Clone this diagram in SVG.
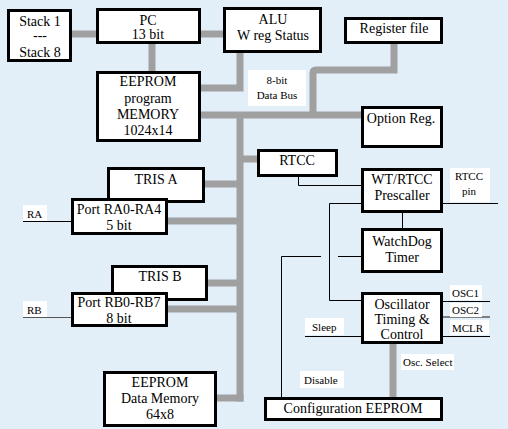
<svg xmlns="http://www.w3.org/2000/svg" width="508" height="429" viewBox="0 0 508 429">
<style>
.box{fill:#fff;stroke:#000;stroke-width:3}
.bus{fill:none;stroke:#a0a0a0;stroke-width:7}
.thin{fill:none;stroke:#000;stroke-width:1}
.lbl{fill:#fff;stroke:none}
text{font-family:"Liberation Serif","Times New Roman",serif;fill:#000}
.t{font-size:14px;text-anchor:middle}
.s{font-size:11px}
.sc{font-size:11px;text-anchor:middle}
</style>
<rect x="0" y="0" width="508" height="429" fill="#e2eef8"/>
<g id="connectors">
<path class="bus" d="M72 34H96"/>
<path class="bus" d="M201 34H223"/>
<path class="bus" d="M152 44V71"/>
<path class="bus" d="M240 53V88H201"/>
<path class="bus" d="M201 115H361"/>
<path class="bus" d="M240 115V401.5"/>
<path class="bus" d="M394 44V70H316Q313 70 313 73V115"/>
<path class="bus" d="M240 159H257"/>
<path class="bus" d="M205 184H240"/>
<path class="bus" d="M168 221H240"/>
<path class="bus" d="M208 283H240"/>
<path class="bus" d="M168 309H240"/>
<path class="bus" d="M217 398H243.5"/>
<path class="bus" d="M393 344V397"/>
<path d="M443 317H490" stroke="#808080" stroke-width="2" fill="none"/>
<path class="thin" d="M23 221.5H71"/>
<path d="M23 317.5H71" stroke="#555" stroke-width="1" fill="none"/>
<path class="thin" d="M298.5 177V185.5H361"/>
<path class="thin" d="M443 203.5H498"/>
<path class="thin" d="M361 203.5H329.5V300.5H361"/>
<path class="thin" d="M402.5 213V229"/>
<path class="thin" d="M361 256.5H338"/>
<path class="thin" d="M321 256.5H281.5V397"/>
<path class="thin" d="M443 301.5H490"/>
<path class="thin" d="M443 336.5H490"/>
<path class="thin" d="M305 336.5H361"/>
</g>
<g id="labels">
<rect class="lbl" x="248" y="70" width="58" height="36"/>
<text class="sc" x="277" y="84">8-bit</text>
<text class="sc" x="277" y="99">Data Bus</text>
<rect class="lbl" x="23" y="205" width="24" height="16"/>
<text class="s" x="27" y="218">RA</text>
<rect class="lbl" x="23" y="301" width="24" height="16"/>
<text class="s" x="27" y="314">RB</text>
<rect class="lbl" x="450" y="168" width="40" height="34"/>
<text class="sc" x="469" y="180">RTCC</text>
<text class="sc" x="469" y="195">pin</text>
<rect class="lbl" x="450" y="285" width="32" height="15"/>
<text class="s" x="452" y="297">OSC1</text>
<rect class="lbl" x="450" y="303" width="32" height="14"/>
<text class="s" x="452" y="314">OSC2</text>
<rect class="lbl" x="450" y="320" width="39" height="15"/>
<text class="s" x="452" y="332">MCLR</text>
<rect class="lbl" x="305" y="318" width="39" height="17"/>
<text class="s" x="312" y="331">Sleep</text>
<rect class="lbl" x="401" y="354" width="53" height="16"/>
<text class="s" x="403" y="366">Osc. Select</text>
<rect class="lbl" x="300" y="371" width="44" height="17"/>
<text class="s" x="304" y="384">Disable</text>
</g>
<g id="stack"><rect class="box" x="8.5" y="10.5" width="62" height="50"/>
<text class="t" x="40" y="26">Stack 1</text><text class="t" x="40" y="40">---</text><text class="t" x="40" y="57">Stack 8</text></g>
<g id="pc"><rect class="box" x="97.5" y="9.5" width="102" height="33"/>
<text class="t" x="148" y="25">PC</text><text class="t" x="148" y="39">13 bit</text></g>
<g id="alu"><rect class="box" x="224.5" y="8.5" width="96" height="43"/>
<text class="t" x="273" y="24">ALU</text><text class="t" x="273" y="40">W reg Status</text></g>
<g id="eeprom-program"><rect class="box" x="97.5" y="72.5" width="102" height="68"/>
<text class="t" x="148" y="86">EEPROM</text><text class="t" x="148" y="103">program</text><text class="t" x="148" y="119">MEMORY</text><text class="t" x="148" y="135">1024x14</text></g>
<g id="register-file"><rect class="box" x="345.5" y="18.5" width="96" height="24"/>
<text class="t" x="394" y="33">Register file</text></g>
<g id="option-reg"><rect class="box" x="362.5" y="107.5" width="79" height="39"/>
<text class="t" x="401" y="123">Option Reg.</text></g>
<g id="rtcc"><rect class="box" x="258.5" y="150.5" width="78" height="25"/>
<text class="t" x="297" y="165">RTCC</text></g>
<g id="tris-a"><rect class="box" x="108.5" y="168.5" width="95" height="33"/>
<text class="t" x="156" y="184">TRIS A</text></g>
<g id="port-ra"><rect class="box" x="72.5" y="199.5" width="94" height="34"/>
<text class="t" x="119" y="214">Port RA0-RA4</text><text class="t" x="119" y="230">5 bit</text></g>
<g id="tris-b"><rect class="box" x="112.5" y="266.5" width="94" height="33"/>
<text class="t" x="160" y="281">TRIS B</text></g>
<g id="port-rb"><rect class="box" x="72.5" y="293.5" width="94" height="32"/>
<text class="t" x="119" y="307">Port RB0-RB7</text><text class="t" x="119" y="323">8 bit</text></g>
<g id="eeprom-data"><rect class="box" x="104.5" y="372.5" width="111" height="53"/>
<text class="t" x="160" y="387">EEPROM</text><text class="t" x="160" y="403">Data Memory</text><text class="t" x="160" y="419">64x8</text></g>
<g id="prescaler"><rect class="box" x="362.5" y="169.5" width="79" height="42"/>
<text class="t" x="402" y="184">WT/RTCC</text><text class="t" x="402" y="200">Prescaller</text></g>
<g id="watchdog"><rect class="box" x="362.5" y="229.5" width="79" height="42"/>
<text class="t" x="402" y="246">WatchDog</text><text class="t" x="402" y="262">Timer</text></g>
<g id="oscillator"><rect class="box" x="362.5" y="293.5" width="79" height="49"/>
<text class="t" x="402" y="309">Oscillator</text><text class="t" x="402" y="324">Timing &amp;</text><text class="t" x="402" y="339">Control</text></g>
<g id="config-eeprom"><rect class="box" x="265.5" y="398.5" width="176" height="21"/>
<text class="t" x="353" y="413">Configuration EEPROM</text></g>
</svg>
